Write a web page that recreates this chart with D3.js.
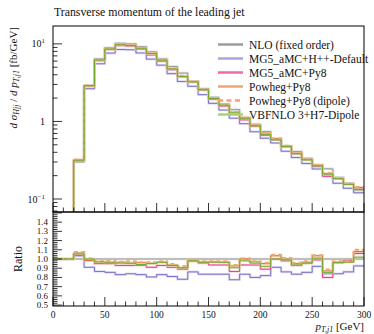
<!DOCTYPE html>
<html>
<head>
<meta charset="utf-8">
<script src="https://cdn.jsdelivr.net/npm/d3@7"></script>
<style>
  body { margin: 0; background: #fff; }
  svg text { font-family: "Liberation Serif", "DejaVu Serif", serif; fill: #111; }
</style>
</head>
<body>
<div id="container-chart"></div>
<script>
// bin edges in GeV
let binEdges = [0, 10, 20, 30, 40, 50, 60, 70, 80, 90, 100, 110, 120, 130, 140, 150,
  160, 170, 180, 190, 200, 210, 220, 230, 240, 250, 260, 270, 280, 290, 300];

// NLO (fixed order) reference, fb/GeV
let nloValues = [0, 0, 0.30, 2.9, 6.4, 8.9, 10.2, 10.0, 9.2, 7.9, 6.4, 5.1, 4.2, 3.3, 2.65,
  2.05, 1.68, 1.42, 1.12, 0.92, 0.74, 0.58, 0.48, 0.41, 0.335, 0.265, 0.245, 0.19, 0.16, 0.13];

// ratios to NLO
let ratioNLO = [1, 1, 1, 1, 1, 1, 1, 1, 1, 1, 1, 1, 1, 1, 1, 1, 1, 1, 1, 1, 1, 1, 1, 1, 1, 1, 1, 1, 1, 1];
let ratioHerwig = [1, 1, 1.035, 0.91, 0.865, 0.855, 0.83, 0.84, 0.83, 0.805, 0.83, 0.81, 0.78, 0.86, 0.835,
  0.835, 0.835, 0.775, 0.835, 0.80, 0.82, 0.91, 0.86, 0.835, 0.855, 0.92, 0.84, 0.84, 0.86, 0.925];
let ratioMGPy8 = [1, 1, 1.04, 0.985, 0.95, 0.95, 0.93, 0.93, 0.93, 0.91, 0.93, 0.91, 0.89, 0.975, 0.955,
  0.935, 0.935, 0.865, 0.935, 0.935, 0.89, 1.0, 0.98, 0.93, 0.955, 0.99, 0.80, 0.96, 0.985, 1.06];
let ratioPowheg = [1, 1, 1.065, 0.985, 0.955, 0.955, 0.965, 0.955, 0.96, 0.955, 0.965, 0.935, 0.905, 0.985, 0.965,
  0.97, 0.965, 0.925, 1.0, 0.97, 0.95, 1.035, 1.0, 0.95, 0.965, 1.035, 0.87, 0.965, 0.97, 1.08];
let ratioPowhegDipole = [1, 1, 1.075, 1.005, 0.975, 0.98, 0.97, 0.975, 0.965, 0.965, 0.975, 0.945, 0.925, 0.995, 0.975,
  0.975, 0.975, 0.935, 1.005, 0.975, 0.96, 1.045, 1.01, 0.96, 0.975, 1.04, 0.885, 0.975, 0.98, 1.1];
let ratioVBFNLO = [1, 1, 1.055, 1.0, 0.97, 0.965, 0.955, 0.955, 0.94, 0.95, 0.965, 0.93, 0.905, 0.98, 0.965,
  0.965, 0.965, 0.905, 0.98, 0.955, 0.92, 1.0, 0.99, 0.935, 0.955, 1.01, 0.855, 0.96, 0.965, 1.02];

let seriesNames = ["NLO (fixed order)", "MG5_aMC+H++-Default", "MG5_aMC+Py8", "Powheg+Py8",
  "Powheg+Py8 (dipole)", "VBFNLO 3+H7-Dipole"];

let xTicks = [0, 50, 100, 150, 200, 250, 300];
let ratioTicks = [1.4, 1.3, 1.2, 1.1, 1.0, 0.9, 0.8, 0.7, 0.6, 0.5];

let series = [
  { name: seriesNames[0], ratio: ratioNLO, band: "#c8c8c8", line: "#909090", legend: "#9c9c9c" },
  { name: seriesNames[1], ratio: ratioHerwig, band: "#c3bfec", line: "#6e63c2", legend: "#a9a5df" },
  { name: seriesNames[2], ratio: ratioMGPy8, band: "#f9adcf", line: "#e3287f", legend: "#f06ba6" },
  { name: seriesNames[3], ratio: ratioPowheg, band: "#f8c39d", line: "#d9580c", legend: "#f2a46f" },
  { name: seriesNames[4], ratio: ratioPowhegDipole, band: null, line: "#f2a46f", legend: "#f2a46f", dashed: true },
  { name: seriesNames[5], ratio: ratioVBFNLO, band: "#c1e29c", line: "#64a520", legend: "#a4d673" }
];

drawChart();

function drawChart() {
  let vis = {};
  vis.W = 374; vis.H = 334;
  vis.left = 53; vis.right = 364;
  vis.mainTop = 26; vis.mainBottom = 212;
  vis.ratioTop = 212; vis.ratioBottom = 306;

  vis.svg = d3.select("#container-chart").append("svg")
    .attr("width", vis.W).attr("height", vis.H);

  vis.x = d3.scaleLinear().domain([0, 300]).range([vis.left, vis.right]);
  vis.y = d3.scaleLog().domain([0.068, 17]).range([vis.mainBottom, vis.mainTop]);
  vis.yr = d3.scaleLinear().domain([0.49, 1.51]).range([vis.ratioBottom, vis.ratioTop]);

  let defs = vis.svg.append("defs");
  defs.append("clipPath").attr("id", "clipMain").append("rect")
    .attr("x", vis.left).attr("y", vis.mainTop)
    .attr("width", vis.right - vis.left).attr("height", vis.mainBottom - vis.mainTop);
  defs.append("clipPath").attr("id", "clipRatio").append("rect")
    .attr("x", vis.left).attr("y", vis.ratioTop)
    .attr("width", vis.right - vis.left).attr("height", vis.ratioBottom - vis.ratioTop);

  // step path through bins
  function stepPath(vals, yfun, floor) {
    let p = "";
    vals.forEach((v, i) => {
      let yy = (v > 0) ? yfun(v) : floor;
      let x0 = vis.x(binEdges[i]), x1 = vis.x(binEdges[i + 1]);
      p += (i == 0 ? "M" : "L") + x0 + "," + yy + "L" + x1 + "," + yy;
    });
    return p;
  }

  let gMain = vis.svg.append("g").attr("clip-path", "url(#clipMain)");
  let gRatio = vis.svg.append("g").attr("clip-path", "url(#clipRatio)");

  series.forEach(s => {
    let mainVals = nloValues.map((v, i) => v * s.ratio[i]);
    let pm = stepPath(mainVals, vis.y, vis.mainBottom + 10);
    let pr = stepPath(s.ratio, vis.yr, vis.ratioBottom + 10);
    [[gMain, pm], [gRatio, pr]].forEach(([g, p]) => {
      if (s.dashed) {
        g.append("path").attr("d", p).attr("fill", "none")
          .attr("stroke", s.line).attr("stroke-width", 2).attr("stroke-dasharray", "4,3");
      } else {
        g.append("path").attr("d", p).attr("fill", "none")
          .attr("stroke", s.band).attr("stroke-width", 2.6).attr("stroke-opacity", 0.5);
        g.append("path").attr("d", p).attr("fill", "none")
          .attr("stroke", s.line).attr("stroke-width", 0.9);
      }
    });
  });

  // frames
  [[vis.mainTop, vis.mainBottom], [vis.ratioTop, vis.ratioBottom]].forEach(([t, b]) => {
    vis.svg.append("rect").attr("x", vis.left).attr("y", t)
      .attr("width", vis.right - vis.left).attr("height", b - t)
      .attr("fill", "none").attr("stroke", "#000").attr("stroke-width", 1);
  });

  let axisG = vis.svg.append("g").attr("stroke", "#000").attr("stroke-width", 0.8);

  // x ticks on both panels (inside)
  [vis.mainBottom, vis.ratioBottom].forEach(b => {
    for (let g = 0; g <= 300; g += 10) {
      let len = (g % 50 == 0) ? 9 : 4.5;
      axisG.append("line").attr("x1", vis.x(g)).attr("x2", vis.x(g))
        .attr("y1", b).attr("y2", b - len);
    }
  });

  // main y ticks (log)
  let logTicks = vis.y.ticks();
  logTicks.forEach(t => {
    let major = Math.abs(Math.log10(t) - Math.round(Math.log10(t))) < 1e-6;
    let yy = vis.y(t);
    if (yy < vis.mainTop || yy > vis.mainBottom) return;
    axisG.append("line").attr("x1", vis.left).attr("x2", vis.left + (major ? 9 : 4.5))
      .attr("y1", yy).attr("y2", yy);
  });

  // ratio y ticks
  for (let k = 25; k <= 75; k++) {
    let t = k * 0.02;
    let major = k % 5 == 0;
    let yy = vis.yr(t);
    axisG.append("line").attr("x1", vis.left).attr("x2", vis.left + (major ? 9 : 4.5))
      .attr("y1", yy).attr("y2", yy);
  }

  // main y labels
  let yl = vis.svg.append("g").attr("font-size", 10).attr("text-anchor", "end");
  let t10 = yl.append("text").attr("x", 45).attr("y", vis.y(10) + 3.5);
  t10.append("tspan").text("10");
  t10.append("tspan").attr("dy", -4).attr("font-size", 7).text("1");
  yl.append("text").attr("x", 45).attr("y", vis.y(1) + 3.5).text("1");
  let t01 = yl.append("text").attr("x", 45).attr("y", vis.y(0.1) + 3.5);
  t01.append("tspan").text("10");
  t01.append("tspan").attr("dy", -4).attr("font-size", 7).text("\u22121");

  // ratio y labels
  vis.svg.append("g").selectAll("text").data(ratioTicks).enter().append("text")
    .attr("x", 48).attr("y", d => vis.yr(d) + 3)
    .attr("text-anchor", "end").attr("font-size", 9)
    .text(d => d.toFixed(1));

  // x labels
  vis.svg.append("g").selectAll("text").data(xTicks).enter().append("text")
    .attr("x", d => vis.x(d)).attr("y", 318)
    .attr("text-anchor", "middle").attr("font-size", 9.5)
    .text(d => d);

  // title
  vis.svg.append("text").attr("x", 54).attr("y", 16).attr("font-size", 11.8)
    .text("Transverse momentum of the leading jet");

  // x axis title
  let xt = vis.svg.append("text").attr("x", vis.right).attr("y", 330)
    .attr("text-anchor", "end").attr("font-size", 11);
  xt.append("tspan").attr("font-style", "italic").text("p");
  xt.append("tspan").attr("font-style", "italic").attr("font-size", 8).attr("dy", 2).text("T,j1");
  xt.append("tspan").attr("dy", -2).text(" [GeV]");

  // main y title
  let yt = vis.svg.append("text").attr("transform", "translate(17,27) rotate(-90)")
    .attr("text-anchor", "end").attr("font-size", 11);
  yt.append("tspan").attr("font-style", "italic").text("d \u03C3");
  yt.append("tspan").attr("font-style", "italic").attr("font-size", 8).attr("dy", 2).text("Hjj");
  yt.append("tspan").attr("dy", -2).text(" / ");
  yt.append("tspan").attr("font-style", "italic").text("d p");
  yt.append("tspan").attr("font-style", "italic").attr("font-size", 8).attr("dy", 2).text("T,j1");
  yt.append("tspan").attr("dy", -2).text(" [fb/GeV]");

  // ratio y title
  vis.svg.append("text").attr("transform", "translate(22," + vis.yr(1.0) + ") rotate(-90)")
    .attr("text-anchor", "middle").attr("font-size", 12).text("Ratio");

  // legend
  let lg = vis.svg.append("g");
  series.forEach((s, i) => {
    let yy = 44.5 + i * 14;
    lg.append("line").attr("x1", 218).attr("x2", 243).attr("y1", yy).attr("y2", yy)
      .attr("stroke", s.legend).attr("stroke-width", 2.5)
      .attr("stroke-dasharray", s.dashed ? "5,3.5" : null);
    lg.append("text").attr("x", 249).attr("y", yy + 4).attr("font-size", 11.5).text(s.name);
  });
}
</script>
</body>
</html>
